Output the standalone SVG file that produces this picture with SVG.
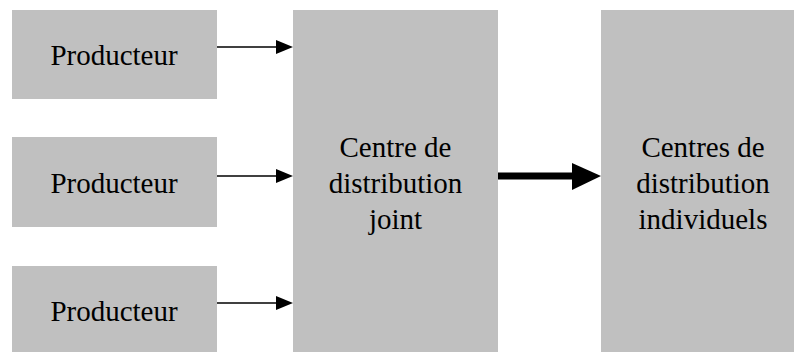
<svg xmlns="http://www.w3.org/2000/svg" width="794" height="352" viewBox="0 0 794 352">
<style>
.box{fill:#c0c0c0;}
.t{font-family:"Liberation Serif","Times New Roman",serif;font-size:29px;fill:#000;text-anchor:middle;}
.thin{stroke:#000;stroke-width:1.5;fill:none;}
.thick{stroke:#000;stroke-width:7;fill:none;}
</style>
<rect width="794" height="352" fill="#fff"/>
<g id="p1"><rect class="box" x="12" y="10" width="205" height="89"/><text class="t" x="114" y="65">Producteur</text></g>
<g id="p2"><rect class="box" x="12" y="137" width="205" height="90"/><text class="t" x="114" y="193">Producteur</text></g>
<g id="p3"><rect class="box" x="12" y="266" width="205" height="86"/><text class="t" x="114" y="321">Producteur</text></g>
<g id="joint"><rect class="box" x="293" y="10" width="205" height="342"/>
<text class="t" x="395.5" y="157">Centre de</text>
<text class="t" x="395.5" y="193">distribution</text>
<text class="t" x="395.5" y="229">joint</text></g>
<g id="indiv"><rect class="box" x="601" y="10" width="204" height="342"/>
<text class="t" x="703" y="157">Centres de</text>
<text class="t" x="703" y="193">distribution</text>
<text class="t" x="703" y="229">individuels</text></g>
<g id="connectors">
<line class="thin" x1="217" y1="47" x2="278" y2="47"/><polygon points="276,40 293,47 276,54" fill="#000"/>
<line class="thin" x1="217" y1="176" x2="278" y2="176"/><polygon points="276,169 293,176 276,183" fill="#000"/>
<line class="thin" x1="217" y1="303" x2="278" y2="303"/><polygon points="276,296 293,303 276,310" fill="#000"/>
<line class="thick" x1="498" y1="176" x2="574" y2="176"/><polygon points="572,163 601,176 572,190" fill="#000"/>
</g>
</svg>
